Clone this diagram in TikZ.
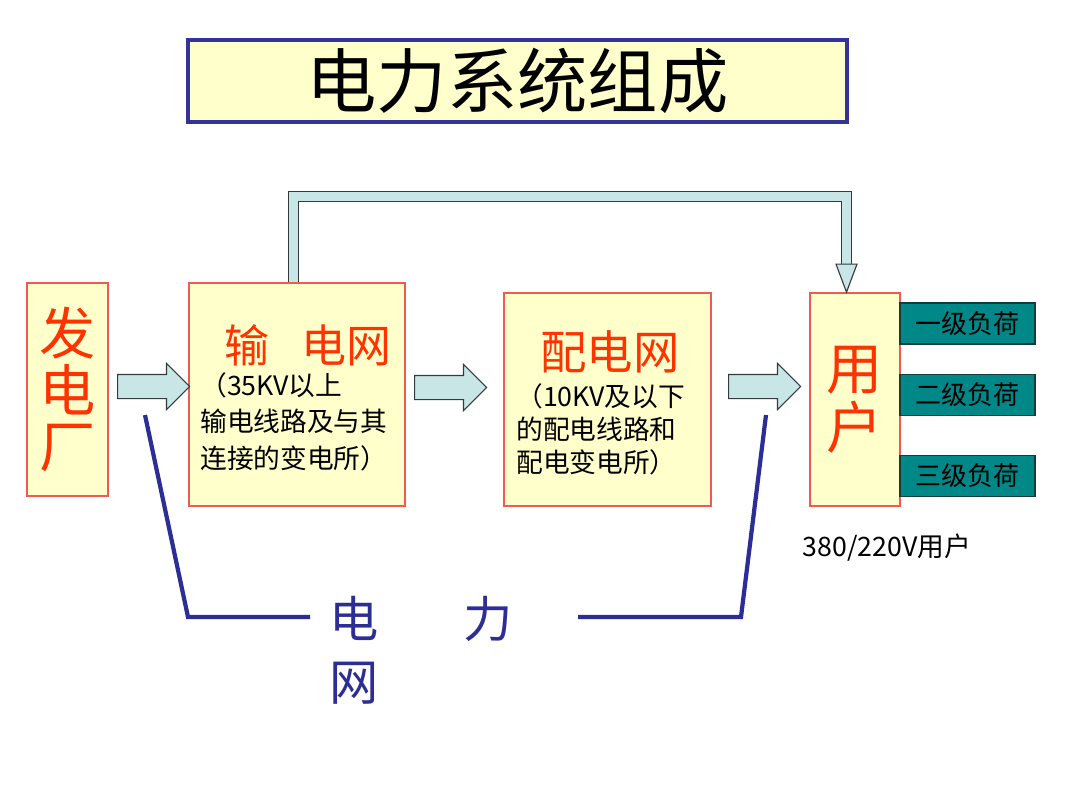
\documentclass[tikz,border=0pt]{standalone}
\usepackage{fontspec}
\setmainfont{Noto Sans CJK SC}
\usetikzlibrary{shapes.arrows, calc}
\definecolor{paleyellow}{RGB}{255, 255, 204}
\definecolor{titleblue}{RGB}{51, 51, 153}
\definecolor{boxred}{RGB}{240, 90, 80}
\definecolor{titlered}{RGB}{255, 51, 0}
\definecolor{loadteal}{RGB}{0, 136, 136}
\definecolor{loadedge}{RGB}{20, 60, 60}
\definecolor{arrowfill}{RGB}{200, 230, 230}
\definecolor{arrowedge}{RGB}{50, 60, 60}
\definecolor{netblue}{RGB}{45, 45, 150}
\newcommand{\pxu}{0.025cm}

\begin{document}
\begin{tikzpicture}[x=\pxu, y=-\pxu,
    box/.style={draw=boxred, fill=paleyellow, line width=1.2pt, inner sep=0pt},
    subtext/.style={align=left, inner sep=0pt, anchor=west},
    load/.style={draw=loadedge, fill=loadteal, line width=1pt, minimum width=135*\pxu, minimum height=41*\pxu, font=\fontsize{18.5}{20}\selectfont},
    blockarrow/.style={single arrow, draw=arrowedge, fill=arrowfill, line width=0.8pt, inner xsep=0pt, inner ysep=11.5*\pxu, single arrow head extend=11*\pxu, minimum height=72*\pxu, anchor=tail},
    gridline/.style={draw=netblue, line width=3pt}]
  \useasboundingbox (0,0) rectangle (1080,810);

  % Title
  \node[draw=titleblue, fill=paleyellow, line width=3.5*\pxu, minimum width=659*\pxu, minimum height=82*\pxu, font=\fontsize{50}{50}\selectfont] (ttl) at (517.5, 81) {电力系统组成};

  % Power plant
  \node[box, minimum width=81*\pxu, minimum height=213*\pxu, text=titlered, align=center, font=\fontsize{40}{40}\selectfont] (fdc) at (67.5, 389.5) {发\\电\\厂};

  % Transmission network
  \node[box, minimum width=216*\pxu, minimum height=223*\pxu] (scw) at (297, 394.5) {};
  \node[text=titlered, inner sep=0pt, font=\fontsize{32}{32}\selectfont] (scwt) at (308, 345) {输\hspace{0.8cm}电网};
  \node[subtext, font=\fontsize{19}{26}\selectfont] (scws) at (200, 421.5) {（35KV以上\\输电线路及与其\\连接的变电所）};

  % Distribution network
  \node[box, minimum width=207*\pxu, minimum height=213*\pxu] (pdw) at (607.5, 399.5) {};
  \node[text=titlered, inner sep=0pt, font=\fontsize{33}{33}\selectfont] (pdwt) at (610, 352) {配电网};
  \node[subtext, font=\fontsize{19}{23.5}\selectfont] (pdws) at (516, 429) {（10KV及以下\\的配电线路和\\配电变电所）};

  % Users
  \node[box, minimum width=90*\pxu, minimum height=213*\pxu, text=titlered, align=center, font=\fontsize{40}{42}\selectfont] (yh) at (855, 399.5) {用\\户};
  \node[load] (ld1) at (967.5, 323.5) {一级负荷};
  \node[load] (ld2) at (967.5, 395) {二级负荷};
  \node[load] (ld3) at (967.5, 476) {三级负荷};
  \node[inner sep=0pt, font=\fontsize{19}{19}\selectfont] (yhv) at (887, 548) {380/220V用户};

  % Block arrows
  \node[blockarrow] (a1) at (117, 386.5) {};
  \node[blockarrow] (a2) at (414, 387.5) {};
  \node[blockarrow] (a3) at (728, 386.5) {};

  % Direct feed from transmission to users
  \coordinate (tip) at ([xshift=-8.5*\pxu]yh.north);
  \draw[draw=arrowfill, line width=9*\pxu, preaction={draw=arrowedge, line width=11*\pxu}]
    ([xshift=-3.5*\pxu]scw.north) -- ++(0,-86) -| ([yshift=28*\pxu]tip);
  \draw[fill=arrowfill, draw=arrowedge, line width=0.8pt] ($(tip)+(-10.5,-28)$) -- ($(tip)+(10.5,-28)$) -- (tip) -- cycle;

  % Power grid bracket
  \draw[gridline] (145, 415) -- (188, 617) -- (310, 617);
  \draw[gridline] (578, 617) -- (741, 617) -- (766, 415);
  \node[text=netblue, align=left, inner sep=0pt, font=\fontsize{35}{45}\selectfont] (dlw) at (421, 650) {电\hspace{2.1cm}力\\网};
\end{tikzpicture}
\end{document}
